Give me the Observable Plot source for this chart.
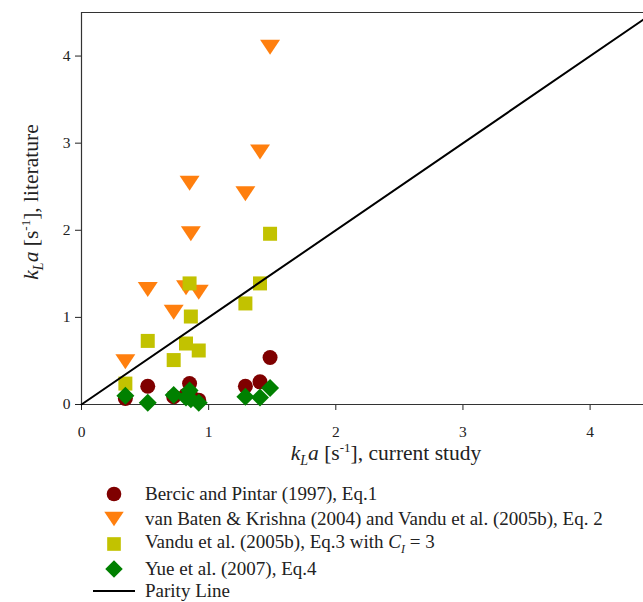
<!DOCTYPE html>
<html>
<head>
<meta charset="utf-8">
<script src="https://cdn.jsdelivr.net/npm/d3@7"></script>
<script src="https://cdn.jsdelivr.net/npm/@observablehq/plot@0.6"></script>
<style>
  html, body { margin: 0; padding: 0; background: #fff; }
  #chart { width: 643px; }
  .legend { position: relative; height: 124px; font-family: "Liberation Serif", "DejaVu Serif", serif; font-size: 19px; color: #222; }
  .legend .row { position: absolute; left: 0; height: 26px; display: flex; align-items: center; white-space: nowrap; }
  .legend svg { display: block; }
</style>
</head>
<body>
<div id="chart"></div>
<script>
// kLa from correlations in the literature vs. kLa measured in the current study
const seriesNames = [
  "Bercic and Pintar (1997), Eq.1",
  "van Baten & Krishna (2004) and Vandu et al. (2005b), Eq. 2",
  "Vandu et al. (2005b), Eq.3 with C_I = 3",
  "Yue et al. (2007), Eq.4"
];
const seriesColors = ["#7f0000", "#ff7f0e", "#c2c200", "#008000"];

const currentStudy = [0.345, 0.521, 0.725, 0.822, 0.85, 0.86, 0.922, 1.289, 1.404, 1.483];
const bercic   = [0.07, 0.21, 0.09, 0.11, 0.24, 0.10, 0.05, 0.21, 0.26, 0.54];
const vanBaten = [0.49, 1.32, 1.06, 1.34, 2.54, 1.96, 1.29, 2.42, 2.90, 4.10];
const vandu    = [0.24, 0.73, 0.51, 0.70, 1.39, 1.01, 0.62, 1.16, 1.39, 1.96];
const yue      = [0.10, 0.02, 0.11, 0.08, 0.16, 0.06, 0.02, 0.09, 0.08, 0.19];

const xTicks = [0, 1, 2, 3, 4];
const yTicks = [0, 1, 2, 3, 4];
const xMax = 4.42, yMax = 4.5;
const parity = [0, xMax];

const serif = "'Liberation Serif', 'DejaVu Serif', serif";

// Marker shapes (radius comes from Plot's r option)
const rad = size => Math.sqrt(size / Math.PI);
const triangleDown = { draw(ctx, size) { const r = rad(size); ctx.moveTo(-1.33 * r, -r); ctx.lineTo(1.33 * r, -r); ctx.lineTo(0, r); ctx.closePath(); } };
const squareSym   = { draw(ctx, size) { const r = rad(size); ctx.rect(-r, -r, 2 * r, 2 * r); } };
const diamondSym  = { draw(ctx, size) { const r = rad(size); ctx.moveTo(0, -r); ctx.lineTo(r, 0); ctx.lineTo(0, r); ctx.lineTo(-r, 0); ctx.closePath(); } };
const symbols = [d3.symbolCircle, triangleDown, squareSym, diamondSym];
const radii = [7.5, 7.5, 7, 9];

const series = [bercic, vanBaten, vandu, yue];
const table = series.map(vals => currentStudy.map((x, i) => ({x, y: vals[i]})));

const svg = Plot.plot({
  width: 643,
  height: 478,
  marginLeft: 81,
  marginRight: 0,
  marginTop: 12,
  marginBottom: 74,
  style: { fontFamily: serif, fontSize: "15.5px", color: "#222", background: "#fff", overflow: "visible" },
  x: { domain: [0, xMax], ticks: xTicks, tickSize: 6, tickPadding: 15, tickFormat: d => String(d), label: null },
  y: { domain: [0, yMax], ticks: yTicks, tickSize: 6, tickPadding: 5, tickFormat: d => String(d), label: null },
  marks: [
    Plot.ruleY([0], { stroke: "#333", strokeWidth: 1.2 }),
    Plot.ruleX([0], { stroke: "#333", strokeWidth: 1.2 }),
    Plot.ruleY([yMax], { stroke: "#333", strokeWidth: 1.2 }),
    ...table.map((data, k) => Plot.dot(data, {
      x: "x", y: "y", symbol: () => symbols[k], r: radii[k],
      fill: seriesColors[k], stroke: "none"
    })),
    Plot.line(parity.map(v => ({x: v, y: v})), { x: "x", y: "y", stroke: "#000", strokeWidth: 2 })
  ]
});
document.getElementById("chart").appendChild(svg);
d3.select(svg).selectAll("text").style("font-family", serif);

// Axis titles with italic, subscript and superscript parts
function kla(sel, rest) {
  sel.append("tspan").attr("font-style", "italic").text("k");
  sel.append("tspan").attr("font-style", "italic").attr("font-size", "14px").attr("dy", 5).text("L");
  sel.append("tspan").attr("font-style", "italic").attr("dy", -5).text("a");
  sel.append("tspan").text(" [s");
  sel.append("tspan").attr("font-size", "13px").attr("dy", -8).text("-1");
  sel.append("tspan").attr("dy", 8).text("], " + rest);
}
const s = d3.select(svg);
const xt = s.append("text").attr("x", 386).attr("y", 460).attr("text-anchor", "middle")
  .style("font-family", serif).attr("font-size", "21.5px").attr("fill", "#222");
kla(xt, "current study");
const yt = s.append("text").attr("transform", "translate(38,202) rotate(-90)").attr("text-anchor", "middle")
  .style("font-family", serif).attr("font-size", "21.5px").attr("fill", "#222");
kla(yt, "literature");

// Legend below the chart
const legend = d3.select("body").append("div").attr("class", "legend");
const rowY = [3, 28, 53, 78, 100];
seriesNames.forEach((name, k) => {
  const row = legend.append("div").attr("class", "row").style("top", rowY[k] + "px");
  const sw = row.append("svg").attr("width", 145).attr("height", 26);
  sw.append("path")
    .attr("transform", "translate(114,13)")
    .attr("d", d3.symbol(symbols[k], Math.PI * radii[k] * radii[k] * 0.95)())
    .attr("fill", seriesColors[k]);
  const label = row.append("span");
  if (name.includes("C_I")) {
    label.append("span").text("Vandu et al. (2005b), Eq.3 with ");
    label.append("i").text("C");
    label.append("sub").append("i").style("font-size", "12px").text("I");
    label.append("span").text(" = 3");
  } else {
    label.text(name);
  }
});
const lrow = legend.append("div").attr("class", "row").style("top", rowY[4] + "px");
const lsw = lrow.append("svg").attr("width", 145).attr("height", 26);
lsw.append("line").attr("x1", 93).attr("x2", 135).attr("y1", 13).attr("y2", 13).attr("stroke", "#000").attr("stroke-width", 2);
lrow.append("span").text("Parity Line");
</script>
</body>
</html>
